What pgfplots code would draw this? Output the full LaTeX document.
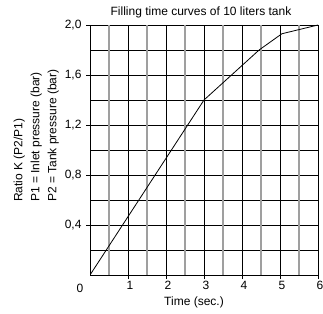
\documentclass[border=0pt]{standalone}
\usepackage{pgfplots}
\pgfplotsset{compat=1.18}
\usepackage{fontspec}
\setmainfont{Liberation Sans}
\begin{document}
\begin{tikzpicture}[x=1pt,y=1pt]
\useasboundingbox (-90,-38) rectangle (233,275);
\begin{axis}[
  at={(0,0)}, anchor=origin,
  scale only axis, width=228pt, height=250pt,
  xmin=0, xmax=6, ymin=0, ymax=2,
  xtick={1,2,3,4,5,6},
  ytick={0.4,0.8,1.2,1.6,2.0},
  minor ytick={0.2,0.6,1.0,1.4,1.8},
  extra x ticks={0.5,1.5,2.5,3.5,4.5,5.5},
  extra x tick labels={},
  extra x tick style={grid=major, major grid style={gray!75, line width=1.3pt}, major tick length=0pt},
  grid=both,
  major grid style={black, line width=0.7pt},
  minor grid style={black, line width=0.7pt},
  minor tick length=0pt,
  tick align=outside, major tick length=4pt,
  xtick pos=bottom, ytick pos=left,
  tick style={black, line width=0.7pt},
  axis line style={black, line width=0.8pt},
  /pgf/number format/assume math mode=true,
  /pgf/number format/use comma,
  /pgf/number format/fixed,
  yticklabel style={/pgf/number format/fixed zerofill, /pgf/number format/precision=1, font=\fontsize{12}{14}\selectfont, xshift=-1pt},
  xticklabel style={font=\fontsize{12}{14}\selectfont, xshift=2pt, yshift=1pt},
]
\addplot[black, line width=0.8pt] coordinates {(0,0) (3,1.4) (4.45,1.8) (5.05,1.93) (6,2.0)};
\end{axis}
\node[font=\fontsize{12}{14}\selectfont] at (-10,-13) {0};
\node[font=\fontsize{12}{14}\selectfont] at (104,-27) {Time (sec.)};
\node[font=\fontsize{12}{14}\selectfont] at (111,263) {Filling time curves of 10 liters tank};
\node[font=\fontsize{12}{17}\selectfont, rotate=90, anchor=south west, align=left, inner sep=0pt] at (-31,73) {Ratio K (P2/P1)\\P1 = Inlet pressure (bar)\\P2 = Tank pressure (bar)};
\end{tikzpicture}
\end{document}
